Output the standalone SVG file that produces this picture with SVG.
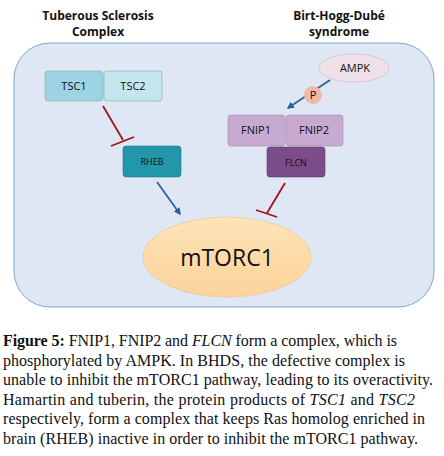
<svg xmlns="http://www.w3.org/2000/svg" width="444" height="456" viewBox="0 0 444 456">
<style>
.title{font-family:"Open Sans","Liberation Sans",sans-serif;font-weight:bold;font-size:12px;fill:#111;text-anchor:middle}
.lbl{font-family:"Open Sans","Liberation Sans",sans-serif;font-size:11px;fill:#111;text-anchor:middle}
.cap{font-family:"Liberation Serif",serif;font-size:16px;fill:#111}
.box{stroke:#8aa;stroke-width:0.6}
.inh{stroke:#a3141e;stroke-width:1.8;fill:none}
.act{stroke:#2e5f99;stroke-width:1.8;fill:none}
</style>
<defs>
<marker id="ah" viewBox="0 0 10 10" refX="8" refY="5" markerWidth="4" markerHeight="4" orient="auto"><path d="M0,0 L10,5 L0,10 z" fill="#2e5f99"/></marker>
<linearGradient id="mg" x1="0" y1="0" x2="0" y2="1"><stop offset="0" stop-color="#fee3b8"/><stop offset="1" stop-color="#fcd39a"/></linearGradient>
</defs>
<rect width="444" height="456" fill="#fff"/>
<rect x="14" y="43" width="420" height="264" rx="36" fill="#e0e7f4" stroke="#7fa6d3" stroke-width="1"/>
<text class="title" x="98" y="20">Tuberous Sclerosis</text>
<text class="title" x="98" y="36">Complex</text>
<text class="title" x="339" y="20">Birt-Hogg-Dubé</text>
<text class="title" x="339" y="36">syndrome</text>
<g id="connectors">
<line class="inh" x1="103" y1="106" x2="123" y2="140"/>
<line class="inh" x1="111" y1="146" x2="134" y2="137"/>
<line class="act" x1="157" y1="182" x2="180" y2="214" marker-end="url(#ah)"/>
<line class="act" x1="330" y1="80" x2="288" y2="108" marker-end="url(#ah)"/>
<line class="inh" x1="285" y1="183" x2="267" y2="213"/>
<line class="inh" x1="256" y1="210" x2="277" y2="217"/>
</g>
<g id="TSC1"><rect class="box" x="45" y="71" width="58" height="30" rx="3" fill="#9dd3e2"/><text class="lbl" x="74" y="90">TSC1</text></g>
<g id="TSC2"><rect class="box" x="104" y="71" width="58" height="30" rx="3" fill="#c4e6ee"/><text class="lbl" x="133" y="90">TSC2</text></g>
<g id="RHEB"><rect x="123" y="146" width="58" height="31" rx="3" fill="#2297a9" stroke="#1b7785" stroke-width="0.6"/><text class="lbl" x="152" y="165" style="font-size:9px">RHEB</text></g>
<g id="AMPK"><ellipse cx="354" cy="68" rx="35" ry="14" fill="#efe1e9" stroke="#c9b8c4" stroke-width="0.6"/><text class="lbl" x="355" y="72">AMPK</text></g>
<g id="P"><circle cx="313" cy="95" r="9" fill="#f3b7a3"/><text class="lbl" x="313" y="99">P</text></g>
<g id="FNIP1"><rect x="228" y="115" width="57" height="31" rx="3" fill="#c8a9d0" stroke="#a28aaa" stroke-width="0.6"/><text class="lbl" x="256" y="134">FNIP1</text></g>
<g id="FNIP2"><rect x="286" y="115" width="57" height="31" rx="3" fill="#c8a9d0" stroke="#a28aaa" stroke-width="0.6"/><text class="lbl" x="314" y="134">FNIP2</text></g>
<g id="FLCN"><rect x="267" y="147" width="58" height="30" rx="3" fill="#7a4c8a" stroke="#5f3a6d" stroke-width="0.6"/><text class="lbl" x="296" y="166" style="font-size:9px">FLCN</text></g>
<g id="mTORC1"><ellipse cx="227" cy="257" rx="84" ry="40" fill="url(#mg)" stroke="#e9c38c" stroke-width="0.6"/><text x="227" y="266" text-anchor="middle" style="font-family:'Open Sans','Liberation Sans',sans-serif;font-size:23px;fill:#111">mTORC1</text></g>
<g id="caption">
<text class="cap" x="3" y="346" textLength="394" lengthAdjust="spacing"><tspan font-weight="bold">Figure 5:</tspan> FNIP1, FNIP2 and <tspan font-style="italic">FLCN</tspan> form a complex, which is</text>
<text class="cap" x="3" y="366" textLength="402" lengthAdjust="spacing">phosphorylated by AMPK. In BHDS, the defective complex is</text>
<text class="cap" x="3" y="385" textLength="430" lengthAdjust="spacing">unable to inhibit the mTORC1 pathway, leading to its overactivity.</text>
<text class="cap" x="3" y="405" textLength="412" lengthAdjust="spacing">Hamartin and tuberin, the protein products of <tspan font-style="italic">TSC1</tspan> and <tspan font-style="italic">TSC2</tspan></text>
<text class="cap" x="3" y="424" textLength="422" lengthAdjust="spacing">respectively, form a complex that keeps Ras homolog enriched in</text>
<text class="cap" x="3" y="444" textLength="415" lengthAdjust="spacing">brain (RHEB) inactive in order to inhibit the mTORC1 pathway.</text>
</g>
</svg>
